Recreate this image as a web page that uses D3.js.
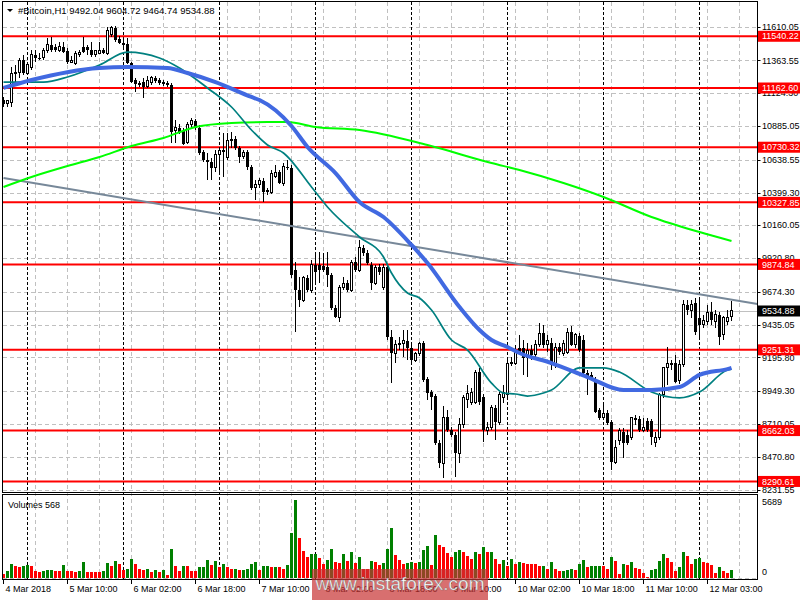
<!DOCTYPE html>
<html>
<head>
<meta charset="utf-8">
<script src="https://cdn.jsdelivr.net/npm/d3@7"></script>
<style>
  body { margin: 0; background: #fff; }
  svg text { font-family: "Liberation Sans", Arial, sans-serif; font-size: 9px; fill: #000; }
  svg text.title { font-size: 9.5px; }
</style>
</head>
<body>
<script>
// ---- data ----
const openP = [
  11075,11046,11060,11265,11279,11367,11272,11309,11404,11382,
  11382,11440,11477,11462,11440,11462,11433,11352,11345,11404,
  11462,11462,11440,11404,11418,11440,11418,11550,11601,11520,
  11491,11484,11345,11221,11192,11206,11170,11206,11236,11221,
  11199,11199,11185,10856,10871,10849,10768,10893,10922,10871,
  10695,10637,10622,10579,10674,10710,10652,10776,10790,10725,
  10659,10695,10586,10433,10455,10484,10418,10403,10513,10549,
  10469,10586,10579,9834,9688,9615,9776,9688,9871,9871,
  9863,9856,9797,9557,9491,9710,9739,9688,9892,9834,
  9995,9958,9871,9739,9856,9703,9856,9345,9228,9287,
  9301,9316,9265,9177,9221,9301,9038,8943,8914,8571,
  8425,8761,8666,8629,8498,8703,8892,8870,8870,9089,
  8907,8666,8681,8827,8724,8907,8922,9155,9155,9265,
  9265,9192,9250,9214,9287,9374,9287,9301,9141,9272,
  9228,9235,9381,9287,9352,9323,9082,9068,9031,8812,
  8754,8790,8724,8432,8593,8651,8629,8608,8754,8746,
  8666,8732,8732,8578,8615,8922,9119,9155,9155,9031,
  9141,9579,9542,9593,9484,9433,9455,9527,9455,9506,
  9360,9455,9492.04
];
const highP = [
  11097,11075,11316,11330,11382,11404,11352,11440,11440,11418,
  11455,11528,11535,11484,11498,11498,11455,11396,11433,11440,
  11535,11477,11498,11440,11498,11455,11608,11615,11615,11542,
  11528,11528,11352,11236,11214,11236,11250,11250,11250,11236,
  11221,11214,11199,10929,10900,10871,10914,10944,10936,10893,
  10710,10688,10652,10710,10732,10834,10834,10841,10812,10739,
  10710,10710,10601,10491,10506,10506,10433,10564,10601,10564,
  10615,10637,10601,9892,9783,9790,9797,9907,9958,9965,
  9958,9965,9812,9578,9724,9783,9761,9907,9929,10053,
  10017,9980,9892,9871,9878,9878,9871,9396,9323,9345,
  9396,9396,9287,9235,9309,9316,9053,8958,8929,8593,
  8841,8812,8688,8651,8754,8922,8995,8973,9104,9119,
  8929,8724,8849,8849,8943,8995,9177,9199,9287,9360,
  9323,9301,9287,9323,9447,9433,9360,9338,9301,9301,
  9323,9411,9425,9374,9374,9360,9104,9089,9053,8827,
  8870,8812,8739,8593,8681,8681,8666,8761,8776,8768,
  8754,8754,8746,8651,8936,9126,9272,9177,9214,9177,
  9615,9615,9615,9630,9637,9506,9579,9600,9542,9528,
  9498,9542,9604.72
];
const lowP = [
  11024,11024,11024,11206,11236,11258,11258,11294,11352,11367,
  11367,11418,11425,11425,11425,11418,11338,11345,11331,11389,
  11418,11404,11389,11389,11411,11411,11404,11535,11498,11484,
  11462,11338,11199,11133,11170,11090,11163,11185,11199,11185,
  11177,11170,10761,10761,10827,10747,10754,10871,10856,10674,
  10622,10491,10491,10549,10528,10513,10637,10725,10710,10615,
  10644,10564,10418,10345,10433,10330,10382,10389,10506,10462,
  10447,10564,9776,9381,9564,9600,9673,9666,9739,9739,
  9819,9710,9542,9484,9454,9688,9673,9673,9819,9819,
  9936,9870,9688,9724,9797,9688,9323,9009,9155,9250,
  9199,9177,9162,9162,9206,9016,8885,8812,8557,8389,
  8316,8651,8615,8323,8425,8681,8827,8849,8856,8849,
  8578,8629,8666,8593,8703,8863,8907,9133,9141,9228,
  9068,9053,9177,9192,9272,9265,9235,9104,9119,9214,
  9206,9221,9279,9265,9235,9068,8922,9031,8790,8739,
  8739,8703,8374,8418,8557,8462,8557,8593,8703,8651,
  8651,8651,8557,8542,8593,8900,8995,9104,9009,9002,
  9126,9506,9484,9360,9323,9411,9433,9433,9411,9287,
  9323,9433,9464.74
];
const closeP = [
  11046,11068,11272,11279,11360,11272,11331,11404,11382,11380,
  11440,11477,11440,11440,11462,11425,11352,11367,11418,11425,
  11425,11440,11404,11433,11440,11418,11586,11601,11513,11491,
  11477,11345,11206,11192,11199,11170,11214,11236,11214,11199,
  11206,11185,10841,10871,10841,10754,10893,10922,10871,10688,
  10637,10622,10579,10674,10710,10695,10783,10790,10725,10659,
  10695,10586,10433,10455,10484,10403,10403,10542,10549,10469,
  10586,10579,9797,9688,9615,9776,9688,9871,9819,9834,
  9834,9797,9557,9491,9710,9739,9688,9892,9834,9995,
  9958,9885,9739,9856,9819,9856,9345,9228,9287,9301,
  9316,9265,9177,9221,9301,9031,8936,8907,8571,8425,
  8761,8666,8629,8498,8703,8900,8929,8943,9089,8870,
  8666,8688,8827,8724,8922,8943,9155,9162,9250,9235,
  9192,9250,9214,9287,9374,9287,9323,9141,9272,9235,
  9301,9381,9287,9360,9250,9082,9053,9046,8797,8754,
  8790,8717,8432,8535,8666,8571,8571,8754,8739,8666,
  8688,8666,8615,8615,8922,9119,9155,9141,9016,9141,
  9579,9542,9579,9381,9433,9469,9527,9469,9506,9345,
  9484,9484,9534.88
];
const volumes = [
  312,480,1032,888,768,888,960,840,528,408,
  480,600,600,528,480,960,528,480,408,528,
  1200,470,460,450,408,528,1128,888,1272,1032,
  600,672,1392,1032,672,600,672,408,600,408,
  600,240,2112,840,480,888,840,528,480,792,
  792,1320,960,1248,768,1008,792,672,690,600,
  610,620,1032,1200,600,888,900,768,792,768,
  672,960,3288,5689,2952,1968,1560,1752,1752,1440,
  1032,1320,2112,1200,1128,1752,1248,1920,1128,1512,
  648,630,1248,1200,960,1128,2112,3672,1680,1320,
  1032,1060,1200,1128,1150,2040,2328,960,3120,2400,
  2232,1800,1560,1920,2040,1872,1632,1392,1920,1752,
  2280,1872,1920,1392,1032,1320,888,1392,1032,1200,
  1080,1032,1010,1000,840,888,648,1200,648,528,
  540,552,648,600,1032,1320,768,888,890,895,
  880,648,1560,1272,312,1032,960,1200,720,672,
  360,48,600,672,1272,1752,1440,1200,528,792,
  1872,1632,1032,1392,1440,1200,1128,960,360,792,
  528,360,568
];

// moving averages, sampled at bar indices
const maSlowIdx = [0,7,16,24,32,40,48,57,66,71,78,89,106,122,129,140,150,162,174,182];
const maSlowVal = [10440,10513,10593,10659,10739,10798,10878,10907,10914,10914,10878,10856,10746,10615,10564,10469,10367,10221,10111,10046];
const maMidIdx = [0,7,24,31,41,46,53,62,64,72,76,83,89,95,102,106,114,119,122,126,129,137,146,155,162,169,174,181,182];
const maMidVal = [11163,11221,11309,11316,11309,11272,11206,11097,11075,10885,10732,10542,10330,10221,10017,9885,9564,9396,9323,9272,9228,9155,9053,8958,8958,8980,9068,9111,9119];
const maFastIdx = [0,10,16,24,31,39,44,51,57,62,66,70,77,81,89,95,97,101,104,107,112,116,122,125,128,131,135,137,144,150,154,162,169,174,181,182];
const maFastVal = [11206,11206,11243,11331,11425,11382,11309,11163,11024,10856,10747,10688,10440,10294,10075,9929,9812,9666,9630,9542,9323,9250,9009,8936,8929,8914,8936,8958,9119,9119,9089,8943,8900,8943,9104,9111];

const trendIdx = [0, 188.5];
const trendVal = [10506, 9586];

const levels = [11540.22, 11162.60, 10730.32, 10327.85, 9874.84, 9251.31, 8662.03, 8290.61];
const priceTicks = [11610.05, 11363.55, 11124.30, 10885.05, 10638.55, 10399.30, 10160.05,
                    9920.80, 9674.30, 9435.05, 9195.80, 8949.30, 8710.05, 8470.80, 8231.55];
const timeLabels = ['4 Mar 2018','5 Mar 10:00','6 Mar 02:00','6 Mar 18:00','7 Mar 10:00',
                    '8 Mar 02:00','8 Mar 18:00','9 Mar 10:00','10 Mar 02:00','10 Mar 18:00',
                    '11 Mar 10:00','12 Mar 03:00'];
const title = '#Bitcoin,H1  9492.04 9604.72 9464.74 9534.88';

// ---- layout ----
const W = 800, H = 600;
const plot = { left: 2.5, right: 757.5, top: 1.5, bottom: 492.5 };
const volPane = { top: 494.5, bottom: 579.5 };

const svg = d3.select('body').append('svg')
  .attr('width', W).attr('height', H);

const bars = d3.range(openP.length).map(i => ({
  i, o: openP[i], h: highP[i], l: lowP[i], c: closeP[i], v: volumes[i]
}));

const x = d3.scaleLinear().domain([0, 188.5]).range([3.5, 757.5]);
const y = d3.scaleLinear().domain([8213.6, 11790.4]).range([492, 2]);
const yv = d3.scaleLinear().domain([0, 5689]).range([578, 500]);

svg.append('defs').append('clipPath').attr('id', 'main')
  .append('rect').attr('x', plot.left).attr('y', plot.top)
  .attr('width', plot.right - plot.left).attr('height', plot.bottom - plot.top);

// grid
const grid = svg.append('g').attr('stroke', '#c0c0c0').attr('stroke-dasharray', '4,3')
  .attr('shape-rendering', 'crispEdges');
grid.selectAll('.hg').data(priceTicks).join('line')
  .attr('x1', plot.left).attr('x2', plot.right)
  .attr('y1', d => Math.round(y(d)) + 0.5).attr('y2', d => Math.round(y(d)) + 0.5);
grid.append('line').attr('x1', plot.left).attr('x2', plot.right)
  .attr('y1', 578.5).attr('y2', 578.5);
const vGrid = d3.range(8, 189, 8);
grid.selectAll('.vg').data(vGrid).join('line')
  .attr('x1', d => x(d)).attr('x2', d => x(d))
  .attr('y1', plot.top).attr('y2', volPane.bottom);

// day separators
svg.append('g').attr('stroke', '#000').attr('stroke-dasharray', '3,2')
  .attr('shape-rendering', 'crispEdges')
  .selectAll('line').data(d3.range(6, 189, 24)).join('line')
  .attr('x1', d => x(d)).attr('x2', d => x(d))
  .attr('y1', plot.top).attr('y2', volPane.bottom);

// last price line
const last = bars[bars.length - 1];
svg.append('line').attr('x1', plot.left).attr('x2', plot.right)
  .attr('y1', Math.round(y(last.c)) + 0.5).attr('y2', Math.round(y(last.c)) + 0.5)
  .attr('stroke', '#c0c0c0').attr('shape-rendering', 'crispEdges');

const main = svg.append('g').attr('clip-path', 'url(#main)');

// horizontal levels
main.selectAll('.lvl').data(levels).join('line')
  .attr('x1', plot.left).attr('x2', plot.right)
  .attr('y1', d => y(d)).attr('y2', d => y(d))
  .attr('stroke', '#ff0000').attr('stroke-width', 2);

// candles
const candles = main.append('g').attr('shape-rendering', 'crispEdges');
candles.selectAll('.wick').data(bars).join('line')
  .attr('x1', d => x(d.i)).attr('x2', d => x(d.i))
  .attr('y1', d => y(d.h)).attr('y2', d => y(d.l))
  .attr('stroke', '#000');
candles.selectAll('.body').data(bars).join('rect')
  .attr('x', d => d.c >= d.o ? x(d.i) - 1 : x(d.i) - 1.5)
  .attr('width', d => d.c >= d.o ? 2 : 3)
  .attr('y', d => y(Math.max(d.o, d.c)))
  .attr('height', d => Math.max(1, y(Math.min(d.o, d.c)) - y(Math.max(d.o, d.c))))
  .attr('fill', d => d.c >= d.o ? '#fff' : '#000')
  .attr('stroke', d => d.c >= d.o ? '#000' : 'none');

// trend line and moving averages
const line = d3.line().x(d => x(d[0])).y(d => y(d[1]));
const curve = d3.line().x(d => x(d[0])).y(d => y(d[1])).curve(d3.curveMonotoneX);
main.append('path').datum(d3.zip(trendIdx, trendVal)).attr('d', line)
  .attr('fill', 'none').attr('stroke', '#778899').attr('stroke-width', 2);
main.append('path').datum(d3.zip(maSlowIdx, maSlowVal)).attr('d', curve)
  .attr('fill', 'none').attr('stroke', '#00ff00').attr('stroke-width', 2);
main.append('path').datum(d3.zip(maFastIdx, maFastVal)).attr('d', curve)
  .attr('fill', 'none').attr('stroke', '#008080').attr('stroke-width', 1.7);
main.append('path').datum(d3.zip(maMidIdx, maMidVal)).attr('d', curve)
  .attr('fill', 'none').attr('stroke', '#4169e1').attr('stroke-width', 4);

// volumes: green when volume rose vs previous bar
svg.append('g').attr('shape-rendering', 'crispEdges')
  .selectAll('rect').data(bars).join('rect')
  .attr('x', d => x(d.i) - 1.5).attr('width', 3)
  .attr('y', d => yv(d.v)).attr('height', d => yv(0) - yv(d.v))
  .attr('fill', (d, i) => i > 0 && d.v >= volumes[i - 1] ? '#008000' : '#ff0000');

// frames
const frame = svg.append('g').attr('fill', 'none').attr('stroke', '#000')
  .attr('shape-rendering', 'crispEdges');
frame.append('rect').attr('x', plot.left).attr('y', plot.top)
  .attr('width', plot.right - plot.left).attr('height', plot.bottom - plot.top);
frame.append('rect').attr('x', plot.left).attr('y', volPane.top)
  .attr('width', plot.right - plot.left).attr('height', volPane.bottom - volPane.top);

// price axis
const axis = svg.append('g');
axis.selectAll('.tk').data(priceTicks).join('line')
  .attr('x1', plot.right).attr('x2', plot.right + 3)
  .attr('y1', d => Math.round(y(d)) + 0.5).attr('y2', d => Math.round(y(d)) + 0.5)
  .attr('stroke', '#000');
axis.selectAll('.tl').data(priceTicks).join('text')
  .attr('x', 762).attr('y', d => y(d)).attr('dy', '0.35em')
  .text(d => d.toFixed(2));

const lvlLabels = svg.append('g');
lvlLabels.selectAll('rect').data(levels).join('rect')
  .attr('x', 758).attr('width', 42).attr('y', d => y(d) - 5.5).attr('height', 11)
  .attr('fill', '#ff0000');
lvlLabels.selectAll('text').data(levels).join('text')
  .attr('x', 762).attr('y', d => y(d)).attr('dy', '0.35em')
  .style('fill', '#fff').text(d => d.toFixed(2));

svg.append('rect').attr('x', 758).attr('width', 42)
  .attr('y', y(last.c) - 5.5).attr('height', 11).attr('fill', '#000');
svg.append('text').attr('x', 762).attr('y', y(last.c)).attr('dy', '0.35em')
  .style('fill', '#fff').text(last.c.toFixed(2));

// volume axis
svg.append('text').attr('x', 762).attr('y', 502).attr('dy', '0.35em').text(d3.max(volumes));
svg.append('text').attr('x', 762).attr('y', 572).attr('dy', '0.35em').text('0');
svg.append('text').attr('x', 8).attr('y', 505).attr('dy', '0.35em')
  .text('Volumes ' + volumes[volumes.length - 1]);

// time axis
const tIdx = timeLabels.map((d, k) => k * 16);
svg.append('g').selectAll('line').data(tIdx).join('line')
  .attr('x1', d => x(d)).attr('x2', d => x(d)).attr('y1', volPane.bottom).attr('y2', 584)
  .attr('stroke', '#000');
svg.append('g').selectAll('text').data(timeLabels).join('text')
  .attr('x', (d, k) => x(tIdx[k]) + 2).attr('y', 592).text(d => d);

// title
svg.append('path').attr('d', 'M7,9 L13,9 L10,12 Z').attr('fill', '#000');
svg.append('text').attr('class', 'title').attr('x', 18).attr('y', 14).text(title);

// watermark
svg.append('rect').attr('x', 312).attr('y', 569).attr('width', 176).attr('height', 31)
  .attr('fill', '#c83232').attr('opacity', 0.7);
svg.append('text').attr('x', 400).attr('y', 590).attr('text-anchor', 'middle')
  .style('font-size', '19px').style('fill', '#fff')
  .attr('stroke', 'rgba(90,90,90,0.6)').attr('stroke-width', 0.6)
  .text('www.instaforex.com');
</script>
</body>
</html>
